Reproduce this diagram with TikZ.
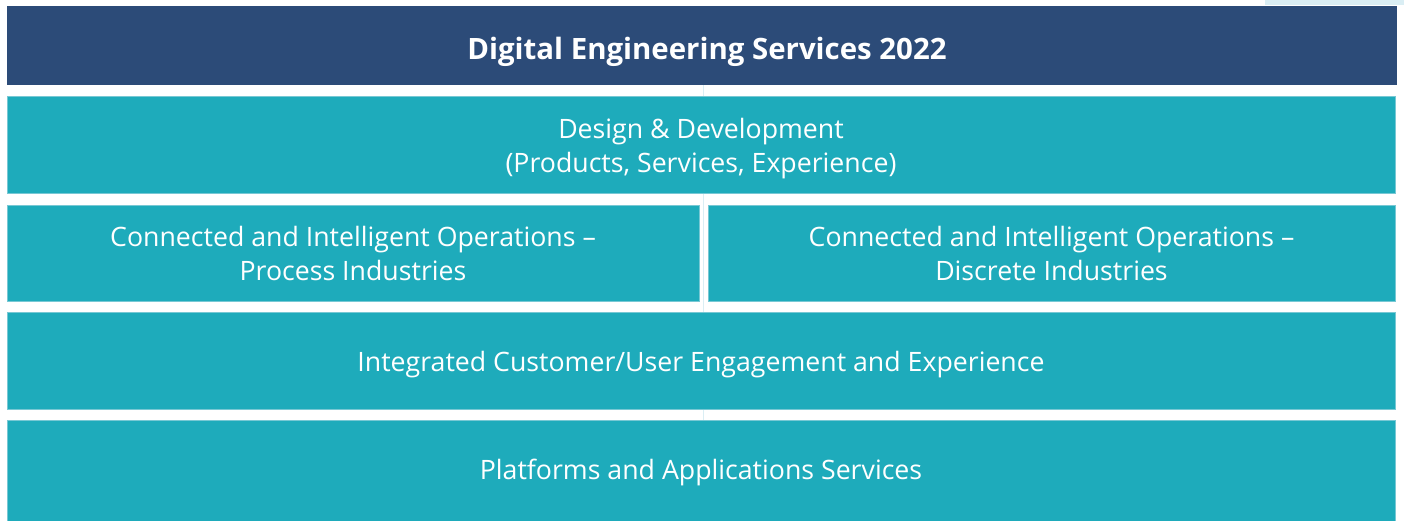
\documentclass[tikz,border=0pt]{standalone}
\usepackage{fontspec}
\setmainfont{Open Sans}
\definecolor{hdr}{RGB}{44,75,120}
\definecolor{tealbox}{RGB}{30,171,187}
\definecolor{tealedge}{RGB}{120,200,212}
\definecolor{faint}{RGB}{218,238,244}
\begin{document}
\begin{tikzpicture}[x=1pt,y=-1pt,
  box/.style={rectangle, fill=tealbox, draw=tealedge, line width=0.8pt, inner sep=0pt},
  hbox/.style={rectangle, fill=hdr, inner sep=0pt},
  txt/.style={inner sep=0pt, text=white, align=center, font=\fontsize{26.7}{34}\selectfont},
  htxt/.style={inner sep=0pt, text=white, align=center, font=\fontsize{29.4}{34}\selectfont\bfseries}]
\useasboundingbox[fill=white] (0,0) rectangle (1404,520);
\fill[faint] (1265,0) rectangle (1404,5);
\coordinate (vtop) at (703,85);
\coordinate (vbot) at (703,420);
\draw[faint, line width=1pt] (vtop) -- (vbot);
\node[hbox, minimum width=1390pt, minimum height=79pt] (head) at (702,45.5) {};
\node[box, minimum width=1388pt, minimum height=97pt] (design) at (701,144.5) {};
\node[box, minimum width=692pt, minimum height=96pt] (proc) at (353,253) {};
\node[box, minimum width=687pt, minimum height=96pt] (disc) at (1051.5,253) {};
\node[box, minimum width=1388pt, minimum height=97pt] (cust) at (701,360.5) {};
\node[box, minimum width=1388pt, minimum height=102pt] (plat) at (701,471) {};
\node[htxt] (headt) at ([xshift=5pt,yshift=-6pt]head.center) {Digital Engineering Services 2022};
\node[txt] (designt) at ([yshift=-4pt]design.center) {Design \& Development\\(Products, Services, Experience)};
\node[txt] (proct) at (proc.center) {Connected and Intelligent Operations –\\Process Industries};
\node[txt] (disct) at (disc.center) {Connected and Intelligent Operations –\\Discrete Industries};
\node[txt] (custt) at ([yshift=-4pt]cust.center) {Integrated Customer/User Engagement and Experience};
\node[txt] (platt) at ([yshift=-1pt]plat.center) {Platforms and Applications Services};
\end{tikzpicture}
\end{document}
